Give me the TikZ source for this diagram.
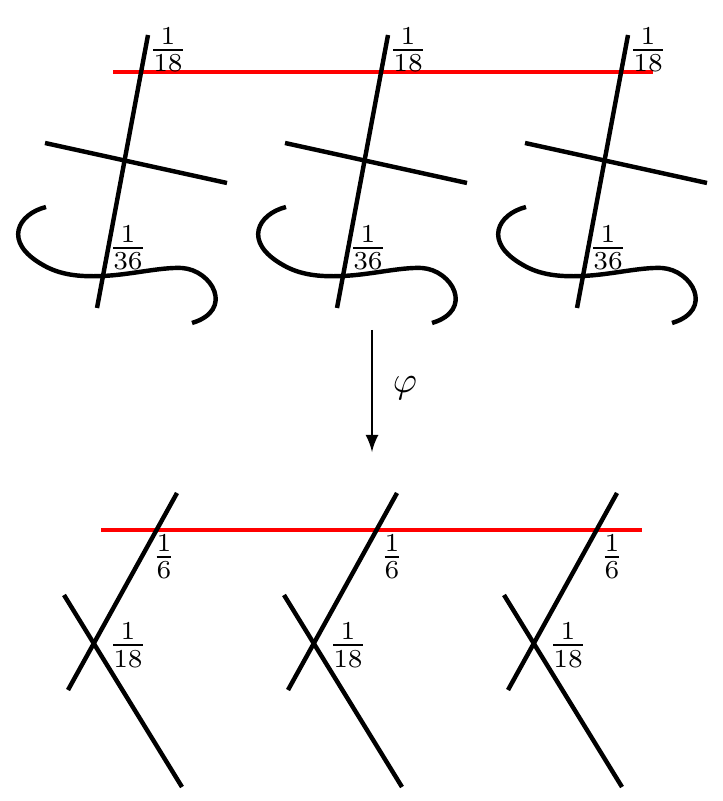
\documentclass[tikz,border=0pt]{standalone}
\usepackage{amsmath}

\begin{document}
\begin{tikzpicture}[x=0.0095cm,y=-0.0095cm,
            strand/.style={black,line width=1.2pt},
            redline/.style={red,line width=1.2pt},
            mult/.style={inner sep=0pt},
            mapto/.style={-latex,semithick}]
            \useasboundingbox (0,0) rectangle (722,801);
            % upper row
            \draw [redline] (113,72) -- (653,72);
            \foreach \i/\dx in {1/0,2/240,3/480}{
              \draw [strand] (148+\dx,35) -- (97+\dx,308);
              \draw [strand] (45+\dx,143) -- (227+\dx,183);
              \draw [strand] (46+\dx,207) .. controls (18+\dx,214) and (2+\dx,242) .. (43+\dx,265)
                .. controls (60+\dx,275) and (80+\dx,277) .. (102+\dx,276)
                .. controls (130+\dx,275) and (160+\dx,267) .. (182+\dx,268)
                .. controls (212+\dx,270) and (235+\dx,310) .. (192+\dx,323);
              \node [mult] (up18-\i) at (168+\dx,50) {$\frac{1}{18}$};
              \node [mult] (up36-\i) at (128+\dx,248) {$\frac{1}{36}$};
            }
            % the map
            \coordinate (phitop) at (372,330);
            \coordinate (phibot) at (372,452);
            \draw [mapto] (phitop) -- (phibot);
            \node [mult] (phi) at (405,388) {$\varphi$};
            % lower row
            \draw [redline] (101,530) -- (642,530);
            \foreach \i/\dx/\lx in {1/0/164,2/220/392,3/440/612}{
              \draw [strand] (177+\dx,493) -- (68+\dx,690);
              \draw [strand] (64+\dx,595) -- (182+\dx,787);
              \node [mult] (low6-\i) at (\lx,557) {$\frac{1}{6}$};
              \node [mult] (low18-\i) at (128+\dx,645) {$\frac{1}{18}$};
            }
\end{tikzpicture}
\end{document}
